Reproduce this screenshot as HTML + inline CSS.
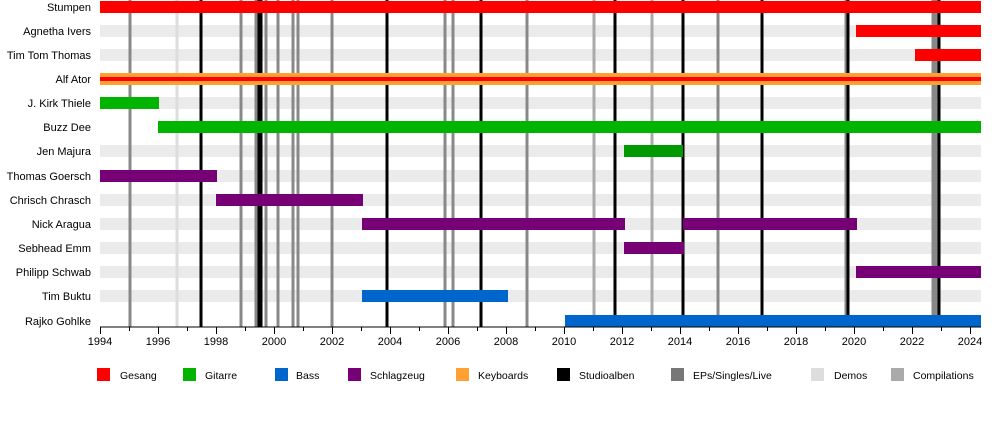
<!DOCTYPE html><html><head><meta charset="utf-8"><style>body{margin:0;background:#fff}svg{display:block;font-family:"Liberation Sans",sans-serif}</style></head><body>
<svg width="1000" height="425" xmlns="http://www.w3.org/2000/svg">
<g fill="#ebebeb">
<rect x="100" y="25" width="881" height="12"/><rect x="100" y="49" width="881" height="12"/><rect x="100" y="97" width="881" height="12"/><rect x="100" y="145" width="881" height="12"/><rect x="100" y="170" width="881" height="12"/><rect x="100" y="194" width="881" height="12"/><rect x="100" y="218" width="881" height="12"/><rect x="100" y="242" width="881" height="12"/><rect x="100" y="266" width="881" height="12"/><rect x="100" y="290" width="881" height="12"/>
</g>
<g stroke-width="3">
<line x1="177" y1="0" x2="177" y2="327" stroke="#ddd"/>
<g stroke="#aaa"><line x1="594" y1="0" x2="594" y2="327"/><line x1="652" y1="0" x2="652" y2="327"/></g>
<g stroke="#888"><line x1="130" y1="0" x2="130" y2="327"/><line x1="241" y1="0" x2="241" y2="327"/><line x1="256" y1="0" x2="256" y2="327"/><line x1="266" y1="0" x2="266" y2="327"/><line x1="278" y1="0" x2="278" y2="327"/><line x1="293" y1="0" x2="293" y2="327"/><line x1="298" y1="0" x2="298" y2="327"/><line x1="332" y1="0" x2="332" y2="327"/><line x1="445" y1="0" x2="445" y2="327"/><line x1="453" y1="0" x2="453" y2="327"/><line x1="527" y1="0" x2="527" y2="327"/><line x1="718" y1="0" x2="718" y2="327"/><line x1="846" y1="0" x2="846" y2="327"/><line x1="933" y1="0" x2="933" y2="327"/><line x1="936" y1="0" x2="936" y2="327"/></g>
<g stroke="#000"><line x1="201" y1="0" x2="201" y2="327"/><line x1="259" y1="0" x2="259" y2="327"/><line x1="261" y1="0" x2="261" y2="327"/><line x1="387" y1="0" x2="387" y2="327"/><line x1="481" y1="0" x2="481" y2="327"/><line x1="615" y1="0" x2="615" y2="327"/><line x1="683" y1="0" x2="683" y2="327"/><line x1="762" y1="0" x2="762" y2="327"/><line x1="848" y1="0" x2="848" y2="327"/><line x1="939" y1="0" x2="939" y2="327"/></g>
</g>
<g>
<rect x="100" y="1" width="881" height="12" fill="#f00"/>
<rect x="856" y="25" width="125" height="12" fill="#f00"/>
<rect x="915" y="49" width="66" height="12" fill="#f00"/>
<rect x="100" y="73" width="881" height="12" fill="#ffa030"/>
<rect x="100" y="77" width="881" height="4" fill="#f00"/>
<rect x="100" y="97" width="59" height="12" fill="#00b400"/>
<rect x="158" y="121" width="823" height="12" fill="#00b400"/>
<rect x="624" y="145" width="59" height="12" fill="#009a00"/>
<rect x="100" y="170" width="117" height="12" fill="#770077"/>
<rect x="216" y="194" width="147" height="12" fill="#770077"/>
<rect x="362" y="218" width="263" height="12" fill="#770077"/>
<rect x="683" y="218" width="174" height="12" fill="#770077"/>
<rect x="624" y="242" width="60" height="12" fill="#770077"/>
<rect x="856" y="266" width="125" height="12" fill="#770077"/>
<rect x="362" y="290" width="146" height="12" fill="#0066cc"/>
<rect x="565" y="315" width="416" height="12" fill="#0066cc"/>
</g>
<g font-size="11" text-anchor="end" fill="#000">
<text x="91" y="11">Stumpen</text><text x="91" y="35">Agnetha Ivers</text><text x="91" y="59">Tim Tom Thomas</text><text x="91" y="83">Alf Ator</text><text x="91" y="107">J. Kirk Thiele</text><text x="91" y="131">Buzz Dee</text><text x="91" y="155">Jen Majura</text><text x="91" y="180">Thomas Goersch</text><text x="91" y="204">Chrisch Chrasch</text><text x="91" y="228">Nick Aragua</text><text x="91" y="252">Sebhead Emm</text><text x="91" y="276">Philipp Schwab</text><text x="91" y="300">Tim Buktu</text><text x="91" y="325">Rajko Gohlke</text>
</g>
<line x1="100" y1="327" x2="981" y2="327" stroke="#000"/>
<g stroke="#000" id="t"></g>
<path stroke="#000" d="M100.5 327v7M129.5 327v4M158.5 327v7M187.5 327v4M216.5 327v7M245.5 327v4M274.5 327v7M303.5 327v4M332.5 327v7M361.5 327v4M390.5 327v7M419.5 327v4M448.5 327v7M477.5 327v4M506.5 327v7M535.5 327v4M564.5 327v7M593.5 327v4M622.5 327v7M651.5 327v4M680.5 327v7M709.5 327v4M738.5 327v7M767.5 327v4M796.5 327v7M825.5 327v4M854.5 327v7M883.5 327v4M912.5 327v7M941.5 327v4M970.5 327v7"/>
<g font-size="11" text-anchor="middle">
<text x="100" y="345">1994</text><text x="158" y="345">1996</text><text x="216" y="345">1998</text><text x="274" y="345">2000</text><text x="332" y="345">2002</text><text x="390" y="345">2004</text><text x="448" y="345">2006</text><text x="506" y="345">2008</text><text x="564" y="345">2010</text><text x="622" y="345">2012</text><text x="680" y="345">2014</text><text x="738" y="345">2016</text><text x="796" y="345">2018</text><text x="854" y="345">2020</text><text x="912" y="345">2022</text><text x="970" y="345">2024</text>
</g>
<g font-size="10.5">
<rect x="97" y="368" width="13" height="13" fill="#f00"/><text x="120" y="379">Gesang</text>
<rect x="183" y="368" width="13" height="13" fill="#00b400"/><text x="205" y="379">Gitarre</text>
<rect x="275" y="368" width="13" height="13" fill="#0066cc"/><text x="296" y="379">Bass</text>
<rect x="348" y="368" width="13" height="13" fill="#770077"/><text x="370" y="379">Schlagzeug</text>
<rect x="456" y="368" width="13" height="13" fill="#ffa030"/><text x="478" y="379">Keyboards</text>
<rect x="557" y="368" width="13" height="13" fill="#000"/><text x="579" y="379">Studioalben</text>
<rect x="671" y="368" width="13" height="13" fill="#777"/><text x="693" y="379">EPs/Singles/Live</text>
<rect x="811" y="368" width="13" height="13" fill="#ddd"/><text x="834" y="379">Demos</text>
<rect x="891" y="368" width="13" height="13" fill="#aaa"/><text x="913" y="379">Compilations</text>
</g>
</svg>
</body></html>
